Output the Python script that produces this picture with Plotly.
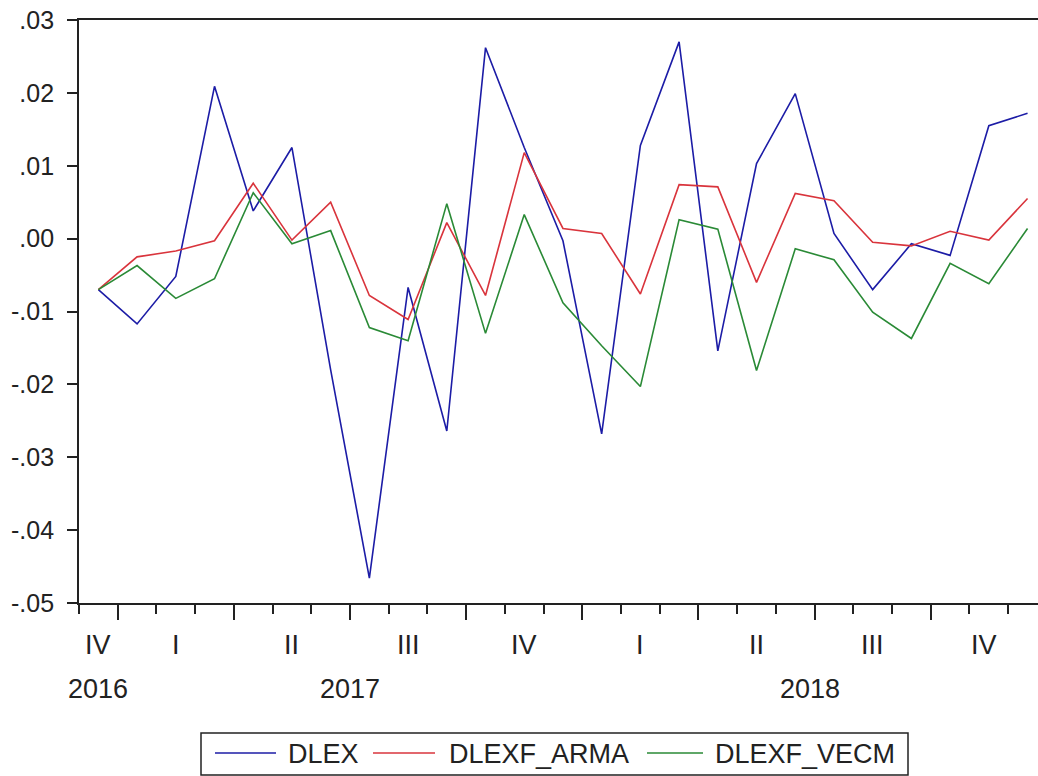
import plotly.graph_objects as go
import pandas as pd

# ---------------- data ----------------
months = pd.period_range("2016-12", "2018-12", freq="M")

DLEX = [-0.0070, -0.0117, -0.0052, 0.0209, 0.0038, 0.0125, -0.0180, -0.0466,
        -0.0067, -0.0264, 0.0262, 0.0125, -0.0003, -0.0268, 0.0128, 0.0270,
        -0.0154, 0.0103, 0.0199, 0.0007, -0.0070, -0.0007, -0.0023, 0.0155, 0.0172]
DLEXF_ARMA = [-0.0070, -0.0025, -0.0017, -0.0003, 0.0076, -0.0002, 0.0050, -0.0078,
              -0.0111, 0.0022, -0.0078, 0.0118, 0.0014, 0.0007, -0.0076, 0.0074,
              0.0071, -0.0060, 0.0062, 0.0052, -0.0005, -0.0010, 0.0010, -0.0002, 0.0055]
DLEXF_VECM = [-0.0070, -0.0037, -0.0082, -0.0055, 0.0063, -0.0007, 0.0011, -0.0122,
              -0.0140, 0.0048, -0.0130, 0.0033, -0.0088, -0.0147, -0.0203, 0.0026,
              0.0013, -0.0181, -0.0014, -0.0029, -0.0101, -0.0137, -0.0034, -0.0062, 0.0014]

series_names = ["DLEX", "DLEXF_ARMA", "DLEXF_VECM"]
series_values = [DLEX, DLEXF_ARMA, DLEXF_VECM]
series_colors = ["#1c1ca6", "#d9343c", "#2a8a36"]

y_tickvals = [-0.05, -0.04, -0.03, -0.02, -0.01, 0.00, 0.01, 0.02, 0.03]
y_ticktext = ["-.05", "-.04", "-.03", "-.02", "-.01", ".00", ".01", ".02", ".03"]
roman = {1: "I", 2: "II", 3: "III", 4: "IV"}

# ---------------- geometry helpers ----------------
W, H = 1038, 776
L, R, T, B = 79, 0, 20, 173
PW = W - L - R
PH = H - T - B
X_LO, X_HI = -0.5, 24.27
FONT = "Liberation Sans, Arial, sans-serif"
INK = "#222222"


def px2x(px):
    return (px - L) / PW


def py2y(py):
    return (H - B - py) / PH


x = list(range(len(months)))

fig = go.Figure()
for name, vals, col in zip(series_names, series_values, series_colors):
    fig.add_trace(go.Scatter(x=x, y=vals, mode="lines", name=name,
                             line=dict(color=col, width=1.6), showlegend=False))

month_bounds = [i - 0.5 for i in range(len(months))]
quarter_bounds = [i - 0.5 for i, m in enumerate(months) if m.month in (1, 4, 7, 10)]

annotations = []
# quarter labels
groups = {}
for i, m in enumerate(months):
    groups.setdefault((m.year, m.quarter), []).append(i)
for (yr, q), idx in groups.items():
    lo = min(idx) - 0.5
    hi = min(max(idx) + 0.5, X_HI)
    annotations.append(dict(x=(lo + hi) / 2, y=py2y(645), xref="x", yref="paper",
                            text=roman[q], showarrow=False, xanchor="center",
                            yanchor="middle", font=dict(family=FONT, size=27, color=INK)))
# year labels
ygroups = {}
for i, m in enumerate(months):
    ygroups.setdefault(m.year, []).append(i)
for yr, idx in ygroups.items():
    lo = min(idx) - 0.5
    hi = min(max(idx) + 0.5, X_HI)
    annotations.append(dict(x=(lo + hi) / 2, y=py2y(689), xref="x", yref="paper",
                            text=str(yr), showarrow=False, xanchor="center",
                            yanchor="middle", font=dict(family=FONT, size=27, color=INK)))

# legend (EViews style box below the chart)
shapes = [dict(type="rect", xref="paper", yref="paper",
               x0=px2x(201), x1=px2x(908), y0=py2y(733), y1=py2y(775),
               line=dict(color=INK, width=1.5), fillcolor="white", layer="above")]
leg_line_x = [(215, 276), (373, 435), (647, 703)]
leg_text_x = [286, 447, 713]
for name, col, (a, b), tx in zip(series_names, series_colors, leg_line_x, leg_text_x):
    shapes.append(dict(type="line", xref="paper", yref="paper",
                       x0=px2x(a), x1=px2x(b), y0=py2y(753), y1=py2y(753),
                       line=dict(color=col, width=1.6), layer="above"))
    annotations.append(dict(x=px2x(tx), y=py2y(754), xref="paper", yref="paper",
                            text=name, showarrow=False, xanchor="left", yanchor="middle",
                            font=dict(family=FONT, size=27, color=INK)))

fig.update_layout(
    width=W, height=H,
    margin=dict(l=L, r=R, t=T, b=B, pad=0),
    paper_bgcolor="white", plot_bgcolor="white",
    font=dict(family=FONT, color=INK),
    showlegend=False,
    xaxis=dict(range=[X_LO, X_HI], showgrid=False, zeroline=False,
               showline=True, linecolor=INK, linewidth=1.8, mirror=True,
               ticks="outside", tickvals=quarter_bounds, ticklen=15, tickwidth=1.8,
               tickcolor=INK, showticklabels=False,
               minor=dict(tickvals=month_bounds, ticks="outside", ticklen=9,
                          tickwidth=1.8, tickcolor=INK, showgrid=False)),
    yaxis=dict(range=[-0.05, 0.03], showgrid=False, zeroline=False,
               showline=True, linecolor=INK, linewidth=1.8,
               ticks="outside", tickvals=y_tickvals, ticktext=y_ticktext,
               ticklen=10, tickwidth=1.8, tickcolor=INK, ticklabelstandoff=8,
               tickfont=dict(family=FONT, size=25, color=INK)),
    annotations=annotations,
    shapes=shapes,
)

fig.write_html("out.html")
